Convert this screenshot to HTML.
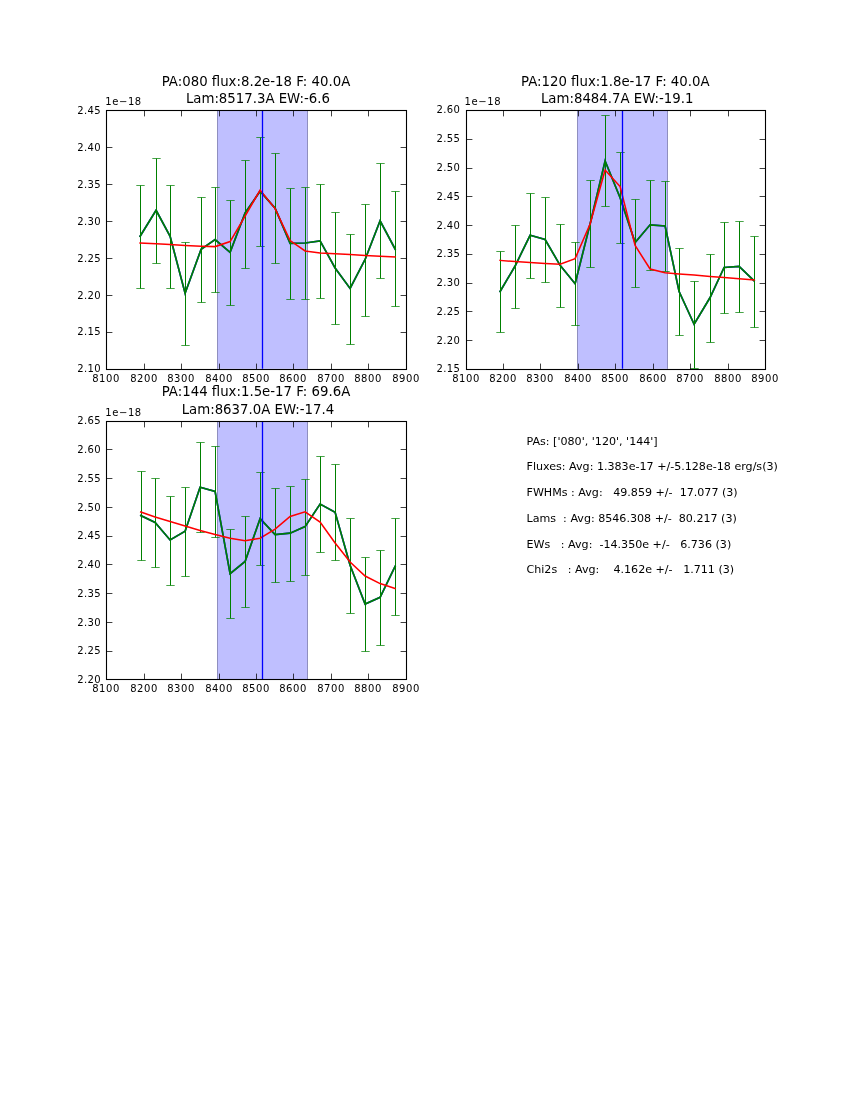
<!DOCTYPE html>
<html><head><meta charset="utf-8"><title>Line fits</title>
<style>
html,body{margin:0;padding:0;background:#fff}
svg{display:block}
text{font-family:"DejaVu Sans","Liberation Sans",sans-serif;fill:#000;white-space:pre}
.tk{font-size:10.0px;letter-spacing:0.6px}
.ty{letter-spacing:0.35px}
.tt{font-size:13.3px;text-anchor:middle}
.tx{font-size:11.1px}
</style></head><body>
<svg width="850" height="1100" viewBox="0 0 850 1100">
<rect width="850" height="1100" fill="#fff"/>
<g id="plot1">
<clipPath id="c0"><rect x="106.50" y="110.50" width="300.00" height="259.00"/></clipPath>
<g clip-path="url(#c0)">
<rect x="217.00" y="110.00" width="91.00" height="258.82" fill="#0000ff" fill-opacity="0.25"/>
<path d="M217.50 110.00V368.82M307.50 110.00V368.82" stroke="#000" stroke-opacity="0.25" stroke-width="1" fill="none"/>
<polyline points="140.10,236.30 156.10,210.30 170.10,236.30 185.10,293.20 201.10,249.30 215.10,239.50 230.10,252.30 245.10,213.00 260.10,191.20 275.10,208.10 290.10,243.30 305.10,243.00 320.10,240.80 335.10,268.00 350.10,288.50 365.10,259.50 380.10,220.80 395.10,249.00" fill="none" stroke="#0000ff" stroke-width="1.68" stroke-linejoin="miter" stroke-linecap="square"/>
<polyline points="140.10,236.30 156.10,210.30 170.10,236.30 185.10,293.20 201.10,249.30 215.10,239.50 230.10,252.30 245.10,213.00 260.10,191.20 275.10,208.10 290.10,243.30 305.10,243.00 320.10,240.80 335.10,268.00 350.10,288.50 365.10,259.50 380.10,220.80 395.10,249.00" fill="none" stroke="#008000" stroke-width="1.68" stroke-linejoin="miter" stroke-linecap="square"/>
<path d="M140.5 185.5V288.5M156.5 158.5V263.5M170.5 185.5V288.5M185.5 242.5V345.5M201.5 197.5V302.5M215.5 187.5V292.5M230.5 200.5V305.5M245.5 160.5V268.5M260.5 137.5V246.5M275.5 153.5V263.5M290.5 188.5V299.5M305.5 187.5V299.5M320.5 184.5V298.5M335.5 212.5V324.5M350.5 234.5V344.5M365.5 204.5V316.5M380.5 163.5V278.5M395.5 191.5V306.5" stroke="#008000" stroke-width="1" fill="none"/>
<path d="M136.30 185.5h8.4M136.30 288.5h8.4M152.30 158.5h8.4M152.30 263.5h8.4M166.30 185.5h8.4M166.30 288.5h8.4M181.30 242.5h8.4M181.30 345.5h8.4M197.30 197.5h8.4M197.30 302.5h8.4M211.30 187.5h8.4M211.30 292.5h8.4M226.30 200.5h8.4M226.30 305.5h8.4M241.30 160.5h8.4M241.30 268.5h8.4M256.30 137.5h8.4M256.30 246.5h8.4M271.30 153.5h8.4M271.30 263.5h8.4M286.30 188.5h8.4M286.30 299.5h8.4M301.30 187.5h8.4M301.30 299.5h8.4M316.30 184.5h8.4M316.30 298.5h8.4M331.30 212.5h8.4M331.30 324.5h8.4M346.30 234.5h8.4M346.30 344.5h8.4M361.30 204.5h8.4M361.30 316.5h8.4M376.30 163.5h8.4M376.30 278.5h8.4M391.30 191.5h8.4M391.30 306.5h8.4" stroke="#008000" stroke-width="0.72" fill="none"/>
<polyline points="140.10,243.00 156.10,243.80 170.10,244.60 185.10,245.40 201.10,246.20 215.10,246.60 230.10,241.60 245.10,216.20 260.10,190.00 275.10,208.60 290.10,240.60 305.10,251.00 320.10,253.00 335.10,253.80 350.10,254.60 365.10,255.40 380.10,256.20 395.10,257.00" fill="none" stroke="#ff0000" stroke-width="1.55" stroke-linejoin="miter" stroke-linecap="square"/>
<path d="M262.5 110.00V368.82" stroke="#0000ff" stroke-width="1.3" fill="none"/>
</g>
<path d="M106.5 369.5v-5.90M106.5 110.5v5.90M144.5 369.5v-5.90M144.5 110.5v5.90M181.5 369.5v-5.90M181.5 110.5v5.90M219.5 369.5v-5.90M219.5 110.5v5.90M256.5 369.5v-5.90M256.5 110.5v5.90M293.5 369.5v-5.90M293.5 110.5v5.90M331.5 369.5v-5.90M331.5 110.5v5.90M368.5 369.5v-5.90M368.5 110.5v5.90M406.5 369.5v-5.90M406.5 110.5v5.90M106.5 369.5h5.90M406.5 369.5h-5.90M106.5 332.5h5.90M406.5 332.5h-5.90M106.5 295.5h5.90M406.5 295.5h-5.90M106.5 258.5h5.90M406.5 258.5h-5.90M106.5 221.5h5.90M406.5 221.5h-5.90M106.5 184.5h5.90M406.5 184.5h-5.90M106.5 147.5h5.90M406.5 147.5h-5.90M106.5 110.5h5.90M406.5 110.5h-5.90" stroke="#000" stroke-width="0.75" fill="none"/>
<rect x="106.5" y="110.5" width="300.0" height="259.0" fill="none" stroke="#000" stroke-width="1.1"/>
<text class="tk" x="106.1" y="381.8" text-anchor="middle">8100</text>
<text class="tk" x="144.1" y="381.8" text-anchor="middle">8200</text>
<text class="tk" x="181.1" y="381.8" text-anchor="middle">8300</text>
<text class="tk" x="219.1" y="381.8" text-anchor="middle">8400</text>
<text class="tk" x="256.1" y="381.8" text-anchor="middle">8500</text>
<text class="tk" x="293.1" y="381.8" text-anchor="middle">8600</text>
<text class="tk" x="331.1" y="381.8" text-anchor="middle">8700</text>
<text class="tk" x="368.1" y="381.8" text-anchor="middle">8800</text>
<text class="tk" x="406.1" y="381.8" text-anchor="middle">8900</text>
<text class="tk ty" x="100.9" y="372.4" text-anchor="end">2.10</text>
<text class="tk ty" x="100.9" y="335.4" text-anchor="end">2.15</text>
<text class="tk ty" x="100.9" y="298.5" text-anchor="end">2.20</text>
<text class="tk ty" x="100.9" y="261.5" text-anchor="end">2.25</text>
<text class="tk ty" x="100.9" y="224.5" text-anchor="end">2.30</text>
<text class="tk ty" x="100.9" y="187.5" text-anchor="end">2.35</text>
<text class="tk ty" x="100.9" y="150.6" text-anchor="end">2.40</text>
<text class="tk ty" x="100.9" y="113.6" text-anchor="end">2.45</text>
<text class="tk" x="105.2" y="104.7">1e−18</text>
<text class="tt" x="256.0" y="85.5">PA:080 flux:8.2e-18 F: 40.0A</text>
<text class="tt" x="257.9" y="103.0">Lam:8517.3A EW:-6.6</text>
</g>
<g id="plot2">
<clipPath id="c1"><rect x="466.50" y="110.50" width="299.00" height="259.00"/></clipPath>
<g clip-path="url(#c1)">
<rect x="577.00" y="110.00" width="91.00" height="258.82" fill="#0000ff" fill-opacity="0.25"/>
<path d="M577.50 110.00V368.82M667.50 110.00V368.82" stroke="#000" stroke-opacity="0.25" stroke-width="1" fill="none"/>
<polyline points="500.10,291.50 515.10,266.00 530.10,235.30 545.10,239.50 560.10,265.30 575.10,283.70 590.10,224.00 605.10,161.00 620.10,197.70 635.10,242.60 650.10,224.80 665.10,226.00 679.10,291.50 694.10,324.30 710.10,297.50 724.10,267.50 739.10,266.30 754.10,280.80" fill="none" stroke="#0000ff" stroke-width="1.68" stroke-linejoin="miter" stroke-linecap="square"/>
<polyline points="500.10,291.50 515.10,266.00 530.10,235.30 545.10,239.50 560.10,265.30 575.10,283.70 590.10,224.00 605.10,161.00 620.10,197.70 635.10,242.60 650.10,224.80 665.10,226.00 679.10,291.50 694.10,324.30 710.10,297.50 724.10,267.50 739.10,266.30 754.10,280.80" fill="none" stroke="#008000" stroke-width="1.68" stroke-linejoin="miter" stroke-linecap="square"/>
<path d="M500.5 251.5V332.5M515.5 225.5V308.5M530.5 193.5V278.5M545.5 197.5V282.5M560.5 224.5V307.5M575.5 242.5V325.5M590.5 180.5V267.5M605.5 115.5V206.5M620.5 152.5V243.5M635.5 199.5V287.5M650.5 180.5V270.5M665.5 181.5V271.5M679.5 248.5V335.5M694.5 281.5V368.5M710.5 254.5V342.5M724.5 222.5V313.5M739.5 221.5V312.5M754.5 236.5V327.5" stroke="#008000" stroke-width="1" fill="none"/>
<path d="M496.30 251.5h8.4M496.30 332.5h8.4M511.30 225.5h8.4M511.30 308.5h8.4M526.30 193.5h8.4M526.30 278.5h8.4M541.30 197.5h8.4M541.30 282.5h8.4M556.30 224.5h8.4M556.30 307.5h8.4M571.30 242.5h8.4M571.30 325.5h8.4M586.30 180.5h8.4M586.30 267.5h8.4M601.30 115.5h8.4M601.30 206.5h8.4M616.30 152.5h8.4M616.30 243.5h8.4M631.30 199.5h8.4M631.30 287.5h8.4M646.30 180.5h8.4M646.30 270.5h8.4M661.30 181.5h8.4M661.30 271.5h8.4M675.30 248.5h8.4M675.30 335.5h8.4M690.30 281.5h8.4M690.30 368.5h8.4M706.30 254.5h8.4M706.30 342.5h8.4M720.30 222.5h8.4M720.30 313.5h8.4M735.30 221.5h8.4M735.30 312.5h8.4M750.30 236.5h8.4M750.30 327.5h8.4" stroke="#008000" stroke-width="0.72" fill="none"/>
<polyline points="500.10,260.40 515.10,261.60 530.10,262.60 545.10,263.50 560.10,264.30 575.10,258.60 590.10,224.00 605.10,170.00 620.10,186.60 635.10,245.50 650.10,269.00 665.10,272.70 679.10,273.90 694.10,275.10 710.10,276.40 724.10,277.60 739.10,278.80 754.10,280.00" fill="none" stroke="#ff0000" stroke-width="1.55" stroke-linejoin="miter" stroke-linecap="square"/>
<path d="M622.5 110.00V368.82" stroke="#0000ff" stroke-width="1.3" fill="none"/>
</g>
<path d="M466.5 369.5v-5.90M466.5 110.5v5.90M503.5 369.5v-5.90M503.5 110.5v5.90M540.5 369.5v-5.90M540.5 110.5v5.90M578.5 369.5v-5.90M578.5 110.5v5.90M615.5 369.5v-5.90M615.5 110.5v5.90M653.5 369.5v-5.90M653.5 110.5v5.90M690.5 369.5v-5.90M690.5 110.5v5.90M728.5 369.5v-5.90M728.5 110.5v5.90M765.5 369.5v-5.90M765.5 110.5v5.90M466.5 369.5h5.90M765.5 369.5h-5.90M466.5 340.5h5.90M765.5 340.5h-5.90M466.5 311.5h5.90M765.5 311.5h-5.90M466.5 283.5h5.90M765.5 283.5h-5.90M466.5 254.5h5.90M765.5 254.5h-5.90M466.5 225.5h5.90M765.5 225.5h-5.90M466.5 196.5h5.90M765.5 196.5h-5.90M466.5 168.5h5.90M765.5 168.5h-5.90M466.5 139.5h5.90M765.5 139.5h-5.90M466.5 110.5h5.90M765.5 110.5h-5.90" stroke="#000" stroke-width="0.75" fill="none"/>
<rect x="466.5" y="110.5" width="299.0" height="259.0" fill="none" stroke="#000" stroke-width="1.1"/>
<text class="tk" x="466.1" y="381.8" text-anchor="middle">8100</text>
<text class="tk" x="503.1" y="381.8" text-anchor="middle">8200</text>
<text class="tk" x="540.1" y="381.8" text-anchor="middle">8300</text>
<text class="tk" x="578.1" y="381.8" text-anchor="middle">8400</text>
<text class="tk" x="615.1" y="381.8" text-anchor="middle">8500</text>
<text class="tk" x="653.1" y="381.8" text-anchor="middle">8600</text>
<text class="tk" x="690.1" y="381.8" text-anchor="middle">8700</text>
<text class="tk" x="728.1" y="381.8" text-anchor="middle">8800</text>
<text class="tk" x="765.1" y="381.8" text-anchor="middle">8900</text>
<text class="tk ty" x="460.2" y="372.4" text-anchor="end">2.15</text>
<text class="tk ty" x="460.2" y="343.7" text-anchor="end">2.20</text>
<text class="tk ty" x="460.2" y="314.9" text-anchor="end">2.25</text>
<text class="tk ty" x="460.2" y="286.1" text-anchor="end">2.30</text>
<text class="tk ty" x="460.2" y="257.4" text-anchor="end">2.35</text>
<text class="tk ty" x="460.2" y="228.6" text-anchor="end">2.40</text>
<text class="tk ty" x="460.2" y="199.9" text-anchor="end">2.45</text>
<text class="tk ty" x="460.2" y="171.1" text-anchor="end">2.50</text>
<text class="tk ty" x="460.2" y="142.4" text-anchor="end">2.55</text>
<text class="tk ty" x="460.2" y="112.6" text-anchor="end">2.60</text>
<text class="tk" x="464.5" y="104.7">1e−18</text>
<text class="tt" x="615.3" y="85.5">PA:120 flux:1.8e-17 F: 40.0A</text>
<text class="tt" x="617.2" y="103.0">Lam:8484.7A EW:-19.1</text>
</g>
<g id="plot3">
<clipPath id="c2"><rect x="106.50" y="421.50" width="300.00" height="258.00"/></clipPath>
<g clip-path="url(#c2)">
<rect x="217.00" y="420.59" width="91.00" height="258.82" fill="#0000ff" fill-opacity="0.25"/>
<path d="M217.50 420.59V679.41M307.50 420.59V679.41" stroke="#000" stroke-opacity="0.25" stroke-width="1" fill="none"/>
<polyline points="140.80,515.50 155.10,522.50 170.10,540.00 185.10,531.30 200.10,487.20 215.10,491.50 230.10,573.70 245.10,561.50 260.10,518.60 275.10,534.60 290.10,533.20 305.10,526.60 320.10,504.00 335.10,512.30 350.10,565.30 365.10,604.00 380.10,597.30 395.10,566.30" fill="none" stroke="#0000ff" stroke-width="1.68" stroke-linejoin="miter" stroke-linecap="square"/>
<polyline points="140.80,515.50 155.10,522.50 170.10,540.00 185.10,531.30 200.10,487.20 215.10,491.50 230.10,573.70 245.10,561.50 260.10,518.60 275.10,534.60 290.10,533.20 305.10,526.60 320.10,504.00 335.10,512.30 350.10,565.30 365.10,604.00 380.10,597.30 395.10,566.30" fill="none" stroke="#008000" stroke-width="1.68" stroke-linejoin="miter" stroke-linecap="square"/>
<path d="M141.5 471.5V560.5M155.5 478.5V567.5M170.5 496.5V585.5M185.5 487.5V576.5M200.5 442.5V532.5M215.5 446.5V537.5M230.5 529.5V618.5M245.5 516.5V607.5M260.5 472.5V565.5M275.5 488.5V582.5M290.5 486.5V581.5M305.5 479.5V575.5M320.5 456.5V552.5M335.5 464.5V560.5M350.5 518.5V613.5M365.5 557.5V651.5M380.5 550.5V645.5M395.5 518.5V615.5" stroke="#008000" stroke-width="1" fill="none"/>
<path d="M137.30 471.5h8.4M137.30 560.5h8.4M151.30 478.5h8.4M151.30 567.5h8.4M166.30 496.5h8.4M166.30 585.5h8.4M181.30 487.5h8.4M181.30 576.5h8.4M196.30 442.5h8.4M196.30 532.5h8.4M211.30 446.5h8.4M211.30 537.5h8.4M226.30 529.5h8.4M226.30 618.5h8.4M241.30 516.5h8.4M241.30 607.5h8.4M256.30 472.5h8.4M256.30 565.5h8.4M271.30 488.5h8.4M271.30 582.5h8.4M286.30 486.5h8.4M286.30 581.5h8.4M301.30 479.5h8.4M301.30 575.5h8.4M316.30 456.5h8.4M316.30 552.5h8.4M331.30 464.5h8.4M331.30 560.5h8.4M346.30 518.5h8.4M346.30 613.5h8.4M361.30 557.5h8.4M361.30 651.5h8.4M376.30 550.5h8.4M376.30 645.5h8.4M391.30 518.5h8.4M391.30 615.5h8.4" stroke="#008000" stroke-width="0.72" fill="none"/>
<polyline points="140.80,512.00 155.10,517.00 170.10,521.60 185.10,526.00 200.10,530.40 215.10,534.60 230.10,538.30 245.10,540.80 260.10,538.20 275.10,529.20 290.10,516.50 305.10,511.80 320.10,522.10 335.10,543.00 350.10,562.00 365.10,576.00 380.10,583.60 395.10,588.60" fill="none" stroke="#ff0000" stroke-width="1.55" stroke-linejoin="miter" stroke-linecap="square"/>
<path d="M262.5 420.59V679.41" stroke="#0000ff" stroke-width="1.3" fill="none"/>
</g>
<path d="M106.5 679.5v-5.90M106.5 421.5v5.90M144.5 679.5v-5.90M144.5 421.5v5.90M181.5 679.5v-5.90M181.5 421.5v5.90M219.5 679.5v-5.90M219.5 421.5v5.90M256.5 679.5v-5.90M256.5 421.5v5.90M293.5 679.5v-5.90M293.5 421.5v5.90M331.5 679.5v-5.90M331.5 421.5v5.90M368.5 679.5v-5.90M368.5 421.5v5.90M406.5 679.5v-5.90M406.5 421.5v5.90M106.5 679.5h5.90M406.5 679.5h-5.90M106.5 651.5h5.90M406.5 651.5h-5.90M106.5 622.5h5.90M406.5 622.5h-5.90M106.5 593.5h5.90M406.5 593.5h-5.90M106.5 564.5h5.90M406.5 564.5h-5.90M106.5 536.5h5.90M406.5 536.5h-5.90M106.5 507.5h5.90M406.5 507.5h-5.90M106.5 478.5h5.90M406.5 478.5h-5.90M106.5 449.5h5.90M406.5 449.5h-5.90M106.5 421.5h5.90M406.5 421.5h-5.90" stroke="#000" stroke-width="0.75" fill="none"/>
<rect x="106.5" y="421.5" width="300.0" height="258.0" fill="none" stroke="#000" stroke-width="1.1"/>
<text class="tk" x="106.1" y="691.8" text-anchor="middle">8100</text>
<text class="tk" x="144.1" y="691.8" text-anchor="middle">8200</text>
<text class="tk" x="181.1" y="691.8" text-anchor="middle">8300</text>
<text class="tk" x="219.1" y="691.8" text-anchor="middle">8400</text>
<text class="tk" x="256.1" y="691.8" text-anchor="middle">8500</text>
<text class="tk" x="293.1" y="691.8" text-anchor="middle">8600</text>
<text class="tk" x="331.1" y="691.8" text-anchor="middle">8700</text>
<text class="tk" x="368.1" y="691.8" text-anchor="middle">8800</text>
<text class="tk" x="406.1" y="691.8" text-anchor="middle">8900</text>
<text class="tk ty" x="100.9" y="683.0" text-anchor="end">2.20</text>
<text class="tk ty" x="100.9" y="654.3" text-anchor="end">2.25</text>
<text class="tk ty" x="100.9" y="625.5" text-anchor="end">2.30</text>
<text class="tk ty" x="100.9" y="596.7" text-anchor="end">2.35</text>
<text class="tk ty" x="100.9" y="568.0" text-anchor="end">2.40</text>
<text class="tk ty" x="100.9" y="539.2" text-anchor="end">2.45</text>
<text class="tk ty" x="100.9" y="510.5" text-anchor="end">2.50</text>
<text class="tk ty" x="100.9" y="481.7" text-anchor="end">2.55</text>
<text class="tk ty" x="100.9" y="452.9" text-anchor="end">2.60</text>
<text class="tk ty" x="100.9" y="424.2" text-anchor="end">2.65</text>
<text class="tk" x="105.2" y="416.3">1e−18</text>
<text class="tt" x="256.0" y="396.1">PA:144 flux:1.5e-17 F: 69.6A</text>
<text class="tt" x="257.9" y="413.6">Lam:8637.0A EW:-17.4</text>
</g>
<g id="summary">
<text class="tx" xml:space="preserve" x="526.5" y="444.7">PAs: [&#39;080&#39;, &#39;120&#39;, &#39;144&#39;]</text>
<text class="tx" xml:space="preserve" x="526.5" y="469.7">Fluxes: Avg: 1.383e-17 +/-5.128e-18 erg/s(3)</text>
<text class="tx" xml:space="preserve" x="526.5" y="496.4">FWHMs : Avg:   49.859 +/-  17.077 (3)</text>
<text class="tx" xml:space="preserve" x="526.5" y="522.3">Lams  : Avg: 8546.308 +/-  80.217 (3)</text>
<text class="tx" xml:space="preserve" x="526.5" y="547.9">EWs   : Avg:  -14.350e +/-   6.736 (3)</text>
<text class="tx" xml:space="preserve" x="526.5" y="573.0">Chi2s   : Avg:    4.162e +/-   1.711 (3)</text>
</g>
</svg>
</body></html>
